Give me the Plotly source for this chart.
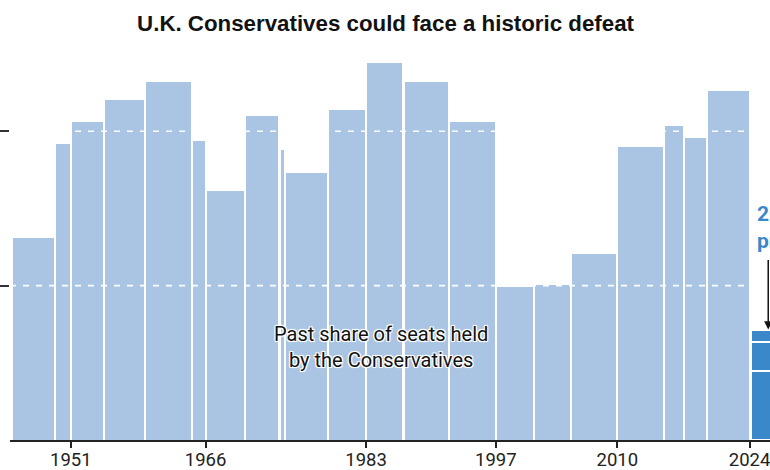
import pandas as pd
import plotly.graph_objects as go

# General elections (start of each parliament) and the Conservative share of seats (%)
election_dates = ["1945-07-05", "1950-02-23", "1951-10-25", "1955-05-26", "1959-10-08",
                  "1964-10-15", "1966-03-31", "1970-06-18", "1974-02-28", "1974-10-10",
                  "1979-05-03", "1983-06-09", "1987-06-11", "1992-04-09", "1997-05-01",
                  "2001-06-07", "2005-05-05", "2010-05-06", "2015-05-07", "2017-06-08",
                  "2019-12-12"]
seat_share = [32.7, 47.9, 51.5, 55.0, 58.0, 48.4, 40.3, 52.5, 46.9, 43.3, 53.5,
              61.1, 58.0, 51.5, 24.7, 25.1, 30.2, 47.4, 50.9, 48.9, 56.5]

# 2024 projection (three estimates, drawn overlapping)
projection_start = "2024-07-04"
projection_end = "2029-07-04"
projection_share = [17.8, 15.9, 11.2]

tick_dates = ["1951-10-25", "1966-03-31", "1983-06-09", "1997-05-01", "2010-05-06", "2024-07-04"]
tick_labels = ["1951", "1966", "1983", "1997", "2010", "2024"]

LIGHT = "#a9c5e3"
DARK = "#3a88ca"
FONT = "Roboto"


def dec_year(s):
    t = pd.Timestamp(s)
    days = 366 if t.is_leap_year else 365
    return t.year + (t.dayofyear - 1) / days


starts = [dec_year(d) for d in election_dates]
ends = starts[1:] + [dec_year(projection_start)]
gap = 0.22
mids = [(a + b) / 2 for a, b in zip(starts, ends)]
widths = [(b - a) - gap for a, b in zip(starts, ends)]

fig = go.Figure()
fig.add_trace(go.Bar(
    x=mids, y=seat_share, width=widths,
    marker=dict(color=LIGHT, line=dict(width=0)),
    hoverinfo="skip", showlegend=False,
))

p0 = dec_year(projection_start) + gap / 2
p1 = dec_year(projection_end)
for v in projection_share:
    fig.add_trace(go.Bar(
        x=[(p0 + p1) / 2], y=[v], width=[p1 - p0],
        marker=dict(color=DARK, line=dict(color="white", width=2)),
        hoverinfo="skip", showlegend=False,
    ))

# white dashed reference lines over the bars
for lvl in [25, 50]:
    fig.add_shape(type="line", xref="x", yref="y", x0=1945.3, x1=dec_year(projection_start) - 0.2,
                  y0=lvl, y1=lvl, layer="above",
                  line=dict(color="white", width=1.6, dash="6px,7px"))

fig.add_annotation(
    x=1985.03, y=15.1, xref="x", yref="y",
    text="Past share of seats held<br>by the Conservatives",
    showarrow=False, align="center",
    font=dict(family=FONT, size=20, color="#121212",
              shadow="-1px -1px 0 #fff, 1px -1px 0 #fff, -1px 1px 0 #fff, 1px 1px 0 #fff, 0 0 3px #fff"),
)

fig.add_annotation(
    x=2025.1, y=38.8, xref="x", yref="y", xanchor="left", yanchor="top",
    text="2024<br>projection", showarrow=False, align="left",
    font=dict(family=FONT, size=21, color=DARK, weight="bold"),
)

fig.add_annotation(
    x=2026.50, y=17.9, xref="x", yref="y", text="",
    axref="x", ayref="y", ax=2026.50, ay=29.4,
    showarrow=True, arrowhead=2, arrowsize=1.1,
    arrowwidth=1.5, arrowcolor="#121212", standoff=0,
)

fig.update_layout(
    width=770, height=470,
    margin=dict(l=10, r=0, t=40, b=30, autoexpand=False),
    paper_bgcolor="white", plot_bgcolor="white",
    barmode="overlay", bargap=0,
    title=dict(text="<b>U.K. Conservatives could face a historic defeat</b>",
               x=0.5007, xanchor="center", y=0.951, yanchor="middle",
               font=dict(family="Liberation Sans", size=22.3, color="#121212")),
    font=dict(family=FONT, color="#121212"),
)
fig.update_xaxes(
    range=[1945.30, 2026.69], automargin=False,
    tickvals=[dec_year(d) for d in tick_dates], ticktext=tick_labels,
    ticks="outside", ticklen=6, tickwidth=1.5, tickcolor="#222",
    showline=True, linecolor="#222", linewidth=1.5,
    showgrid=False, zeroline=False, ticklabeloverflow="allow",
    ticklabelstandoff=-4,
    tickfont=dict(family=FONT, size=18.5, color="#222"),
)
fig.update_yaxes(
    range=[0, 64.78], tickvals=[25, 50], showticklabels=False, automargin=False,
    ticks="outside", ticklen=10, tickwidth=1.5, tickcolor="#333",
    showline=False, showgrid=False, zeroline=False,
)

# drop the page's default body margin so the figure fills the window
fig.write_html("out.html", config={"displayModeBar": False},
               post_script="document.body.style.margin='0';")
